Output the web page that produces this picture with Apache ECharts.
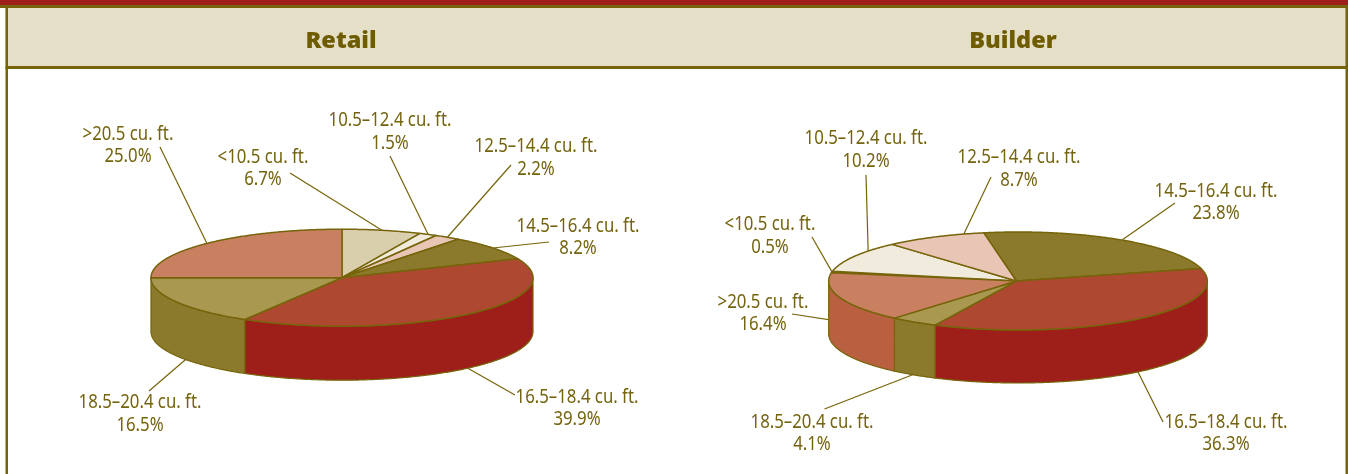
<!DOCTYPE html>
<html><head><meta charset="utf-8">
<style>html,body{margin:0;padding:0;background:#fff}#c{width:1348px;height:474px}</style>
<script src="https://cdn.jsdelivr.net/npm/echarts@6/dist/echarts.min.js"></script>
</head><body><div id="c"></div>
<script>
// ---- data ----
const categories = ['<10.5 cu. ft.', '10.5–12.4 cu. ft.', '12.5–14.4 cu. ft.', '14.5–16.4 cu. ft.', '16.5–18.4 cu. ft.', '18.5–20.4 cu. ft.', '>20.5 cu. ft.'];
const retailValues = [6.7, 1.5, 2.2, 8.2, 39.9, 16.5, 25.0];
const builderValues = [0.5, 10.2, 8.7, 23.8, 36.3, 4.1, 16.4];
const panelTitles = ['Retail', 'Builder'];

// ---- styles ----
const topColors = ['#d9cfac', '#f0ebdc', '#e8c5b5', '#8b7a2b', '#ae4830', '#a89850', '#c98060'];
const sideColors = ['#d9cfac', '#f0ebdc', '#e8c5b5', '#8b7a2b', '#9e1f1a', '#8b7a2b', '#b86040'];
const builderTop = ['#f0ebdc', '#f0ebdc', '#e8c5b5', '#8b7a2b', '#ae4830', '#a89850', '#c98060'];
const ink = '#76640a';
const textInk = '#75640f';
const FONT = '"Noto Sans"';
const SQUEEZE = 0.86;
const LABEL_SIZE = 19.5;

// ---- layout: label centre [x, y1, y2], leader outer end [x, y], anchor fraction in slice, depth fraction ----
const retailLayout = {
  cx: 342, cy: 277.7, hubX: 342, rx: 191, ry: 48.5, depth: 54, start: 0, top: topColors,
  labels: [[263,157,179],[390,120,143],[536,146,169],[578,226,248],[577,397,419],[140,402,425],[128,134,156]],
  ends: [[290,173],[390,156],[511,165],[549,242],[515,395],[149,391],[160,147]],
  frac: [.5,.5,.5,.5,.5,.41,.5], drop: [0,0,0,0,1,1,0]
};
const builderLayout = {
  cx: 1018, cy: 281, hubX: 1016.6, rx: 189.3, ry: 49, depth: 53, start: -80.2, top: builderTop,
  labels: [[770,224,247],[866,138,161],[1019,157,180],[1216,191,213],[1226,422,444],[812,422,444],[763,302,324]],
  ends: [[812,237],[866,175],[991,177],[1175,203],[1163,422],[824.5,409],[792,314]],
  frac: [.5,.71,.8,.51,.5,.53,.5], drop: [0,0,0,0,1,1,.45]
};

function spans(values, start) {
  let a = start; const tot = values.reduce((s, v) => s + v, 0);
  return values.map(v => { const b = a + v / tot * 360; const r = [a, b]; a = b; return r; });
}
function pt(L, deg, dy) {
  const t = deg * Math.PI / 180;
  return [L.cx + L.rx * Math.sin(t), L.cy - L.ry * Math.cos(t) + (dy || 0)];
}
function arc(L, a, b, dy) {
  const out = [], n = Math.max(2, Math.ceil(Math.abs(b - a) * 2));
  for (let i = 0; i <= n; i++) out.push(pt(L, a + (b - a) * i / n, dy));
  return out;
}
function tex(x, y, s) {
  return { type: 'text', x: x, y: y, scaleX: SQUEEZE, style: { text: s, x: 0, y: 0, fill: textInk, font: 'normal ' + LABEL_SIZE + 'px ' + FONT, align: 'center', verticalAlign: 'middle' } };
}

function pieSeries(values, L) {
  const sp = spans(values, L.start);
  const rows = values.map((v, i) => ({ name: categories[i], value: [i, v] }));
  const base = { type: 'custom', coordinateSystem: 'none', silent: true, animation: false, data: rows };
  return [
    // leaders and labels under the pie body
    Object.assign({}, base, { z: 1, renderItem: (p, api) => {
      const i = api.value(0), s = sp[i], t = s[0] + (s[1] - s[0]) * L.frac[i];
      const a = pt(L, t, L.drop[i] * L.depth), e = L.ends[i], lb = L.labels[i];
      return { type: 'group', children: [
        { type: 'polyline', shape: { points: [e, a] }, style: { stroke: ink, lineWidth: 1.2, fill: null } },
        tex(lb[0], lb[1], categories[i]),
        tex(lb[0], lb[2], api.value(1).toFixed(1) + '%')
      ]};
    }}),
    // visible outer wall
    Object.assign({}, base, { z: 2, renderItem: (p, api) => {
      const i = api.value(0), s = sp[i];
      const kids = [];
      for (const k of [-360, 0, 360]) {
        const a = Math.max(s[0] + k, 90), b = Math.min(s[1] + k, 270);
        if (b > a) kids.push({ type: 'polygon', shape: { points: arc(L, a, b, 0).concat(arc(L, b, a, L.depth)) },
          style: { fill: sideColors[i], stroke: ink, lineWidth: 1.2, lineJoin: 'round' } });
      }
      return { type: 'group', children: kids };
    }}),
    // top face
    Object.assign({}, base, { z: 3, renderItem: (p, api) => {
      const i = api.value(0), s = sp[i];
      return { type: 'polygon', shape: { points: [[L.hubX, L.cy]].concat(arc(L, s[0], s[1], 0)) },
        style: { fill: L.top[i], stroke: ink, lineWidth: 1.5, lineJoin: 'round' } };
    }})
  ];
}

const chart = echarts.init(document.getElementById('c'), null, { renderer: 'canvas' });
chart.setOption({
  backgroundColor: '#ffffff',
  animation: false,
  graphic: [
    { type: 'rect', silent: true, z: -2, shape: { x: 0, y: 0, width: 1348, height: 5 }, style: { fill: '#9e1f1a' } },
    { type: 'rect', silent: true, z: -2, shape: { x: 0, y: 5, width: 1348, height: 3 }, style: { fill: ink } },
    { type: 'rect', silent: true, z: -2, shape: { x: 5.5, y: 8, width: 1342.5, height: 58 }, style: { fill: '#e5dfc7' } },
    { type: 'rect', silent: true, z: -2, shape: { x: 5.5, y: 66, width: 1342.5, height: 3 }, style: { fill: ink } },
    { type: 'rect', silent: true, z: -2, shape: { x: 5.5, y: 5, width: 2.5, height: 469 }, style: { fill: ink } },
    { type: 'rect', silent: true, z: -2, shape: { x: 1345.5, y: 5, width: 2.5, height: 469 }, style: { fill: ink } }
  ],
  title: [
    { text: panelTitles[0], left: 336, top: 24, textAlign: 'center', textStyle: { color: '#6f5c00', fontFamily: FONT, fontWeight: 900, fontSize: 23.5 } },
    { text: panelTitles[1], left: 1008, top: 24, textAlign: 'center', textStyle: { color: '#6f5c00', fontFamily: FONT, fontWeight: 900, fontSize: 23.5 } }
  ],
  series: pieSeries(retailValues, retailLayout).concat(pieSeries(builderValues, builderLayout))
});
</script></body></html>
